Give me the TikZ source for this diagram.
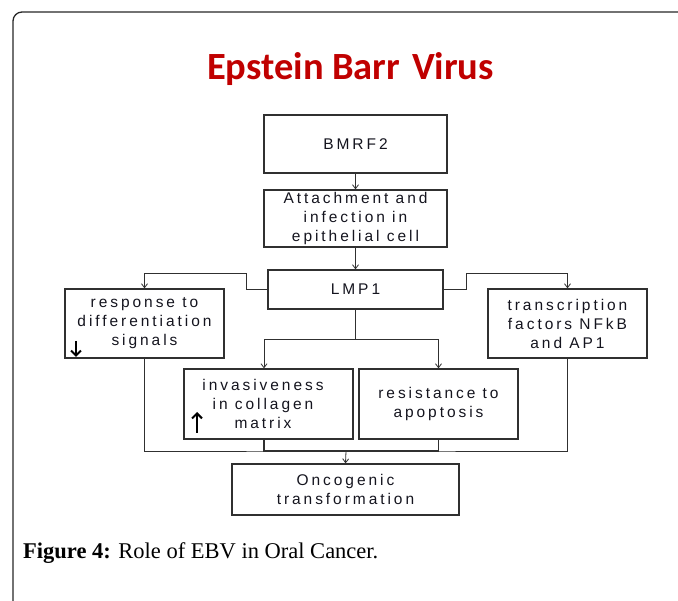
\documentclass[tikz,border=0pt]{standalone}
\usepackage{fontspec}
\usetikzlibrary{arrows.meta}
\newfontfamily\boxfont[LetterSpace=19]{Liberation Sans}
\newfontfamily\titlefont{Carlito}
\newfontfamily\capfont{Liberation Serif}
\definecolor{titlered}{HTML}{C00000}
\definecolor{ink}{HTML}{14141E}
\definecolor{edge}{HTML}{303030}
\begin{document}
\begin{tikzpicture}[x=1pt,y=-1pt,
  box/.style={draw=edge, line width=1.2pt, inner sep=0pt, align=center,
              text=ink, font=\boxfont\fontsize{15.5}{19}\selectfont},
  lbl/.style={inner sep=0pt, align=center, text=ink,
              font=\boxfont\fontsize{15.5}{19}\selectfont},
  conn/.style={draw=edge, line width=0.8pt},
  arr/.style={conn, -{Straight Barb[length=4pt,width=6pt]}},
  updown/.style={line width=2pt, draw=black, -{Straight Barb[length=5pt,width=10pt]}},
]
\useasboundingbox (0,0) rectangle (678,601);

% outer frame
\draw[line width=1.3pt, draw=black!85, rounded corners=9pt] (682,12) -- (13,12) -- (13,605);

% heading
\node[anchor=base, inner sep=0pt, text=titlered,
      font=\titlefont\bfseries\fontsize{38.5}{42}\selectfont] (title) at (350.5,80) {Epstein Barr\hspace{3pt} Virus};

% boxes
\node[box, minimum width=183pt, minimum height=58pt] (bmrf) at (355.5,144) {BMRF2};
\node[box, minimum width=183pt, minimum height=57pt] (att) at (355.5,218.5) {Attachment and\\infection in\\epithelial cell};
\node[box, minimum width=175pt, minimum height=39pt] (lmp) at (355.5,289.5) {LMP1};
\node[box, minimum width=159pt, minimum height=69pt] (resp) at (144.5,323.5) {response to\\differentiation\\signals};
\node[box, minimum width=159pt, minimum height=69pt] (trans) at (567.5,323.5) {transcription\\factors NFkB\\and AP1};
\node[box, minimum width=169pt, minimum height=70pt] (inv) at (268.5,404) {};
\node[lbl] (invtext) at (263,404) {invasiveness\\in collagen\\matrix};
\node[box, minimum width=159pt, minimum height=70pt] (res) at (438.5,404) {resistance to\\apoptosis};
\node[box, minimum width=227pt, minimum height=51pt] (onc) at (345.5,489.5) {Oncogenic\\transformation};

% down / up markers
\coordinate (dtop) at (76,341);
\coordinate (dbot) at (76,357);
\draw[updown] (dtop) -- (dbot);
\coordinate (ubot) at (197,433);
\coordinate (utop) at (197,412);
\draw[updown] (ubot) -- (utop);

% main chain
\draw[arr] (bmrf.south) -- (att.north);
\draw[arr] (att.south) -- (lmp.north);

% side branches from LMP1
\draw[arr] (lmp.west) -| (246,273) -| (resp.north);
\draw[arr] (lmp.east) -| (466,273) -| (trans.north);

% lower branches from LMP1
\coordinate (split) at (355.5,339);
\draw[conn] (lmp.south) -- (split);
\draw[arr] (split) -| ([xshift=-4.5pt]inv.north);
\draw[arr] (split) -| (res.north);

% merge into oncogenic transformation
\coordinate (join) at (346,451);
\draw[conn] (resp.south) |- (join) -| (trans.south);
\draw[conn, line width=1.3pt] ([xshift=-4.5pt]inv.south) |- (join) -| (res.south);
\draw[arr] (join) -- (onc.north);

% caption
\node[anchor=base west, inner sep=0pt, text=black,
      font=\capfont\fontsize{22.5}{26}\selectfont] (caption) at (23,559)
      {\textbf{Figure 4:} Role of EBV in Oral Cancer.};
\end{tikzpicture}
\end{document}
